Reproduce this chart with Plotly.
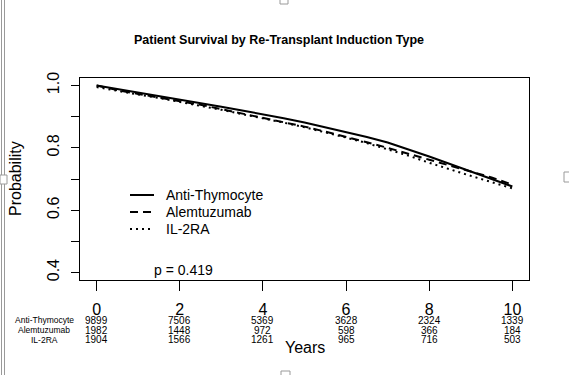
import plotly.graph_objects as go

# ---- data ----
years = [0, 0.5, 1, 1.5, 2, 2.5, 3, 3.5, 4, 4.5, 5, 5.5, 6, 6.5, 7, 7.5, 8, 8.5, 9, 9.5, 10]
surv_atg = [1.0, 0.989, 0.978, 0.967, 0.956, 0.944, 0.932, 0.920, 0.908, 0.895, 0.881,
            0.866, 0.851, 0.835, 0.817, 0.795, 0.772, 0.748, 0.724, 0.700, 0.676]
surv_alem = [1.0, 0.985, 0.973, 0.962, 0.950, 0.938, 0.924, 0.910, 0.897, 0.883, 0.868,
             0.852, 0.836, 0.818, 0.800, 0.782, 0.762, 0.743, 0.725, 0.705, 0.682]
surv_il2 = [0.995, 0.982, 0.971, 0.960, 0.948, 0.936, 0.922, 0.908, 0.895, 0.881, 0.866,
            0.850, 0.833, 0.815, 0.796, 0.775, 0.752, 0.730, 0.710, 0.690, 0.670]

groups = ["Anti-Thymocyte", "Alemtuzumab", "IL-2RA"]
risk_times = [0, 2, 4, 6, 8, 10]
risk_atg = [9899, 7506, 5369, 3628, 2324, 1339]
risk_alem = [1982, 1448, 972, 598, 366, 184]
risk_il2 = [1904, 1566, 1261, 965, 716, 503]

y_ticks = [0.4, 0.5, 0.6, 0.7, 0.8, 0.9, 1.0]
y_ticklabels = ["0.4", "", "0.6", "", "0.8", "", "1.0"]
p_text = "p = 0.419"
title = "Patient Survival by Re-Transplant Induction Type"

FONT = "Liberation Sans, Arial, sans-serif"
W, H = 569, 375
ML, MR, MT, MB = 80, 40, 78, 95
PW, PH = W - ML - MR, H - MT - MB


def px(xp):
    return (xp - ML) / PW


def py(yp):
    return (H - MB - yp) / PH


fig = go.Figure()
styles = [("solid", 2), ("8px,5px", 2), ("2px,4px", 2)]
for name, ys, (dash, w) in zip(groups, [surv_atg, surv_alem, surv_il2], styles):
    fig.add_trace(go.Scatter(x=years, y=ys, mode="lines", name=name, showlegend=False,
                             hoverinfo="skip",
                             line=dict(color="black", width=w, dash=dash)))

# legend (drawn by hand to match spacing)
for i, (name, (dash, w)) in enumerate(zip(groups, styles)):
    yy = py(195 + i * 17)
    fig.add_shape(type="line", xref="paper", yref="paper", x0=px(130), x1=px(154),
                  y0=yy, y1=yy, line=dict(color="black", width=w, dash=dash))
    fig.add_annotation(x=px(164), xref="paper", y=yy, yref="paper", text=name,
                       showarrow=False, xanchor="left", yanchor="middle",
                       font=dict(size=14, family=FONT, color="black"))

# risk table
row_y = [320, 330, 339.5]
for g, row, ry in zip(groups, [risk_atg, risk_alem, risk_il2], row_y):
    yy = py(ry)
    fig.add_annotation(x=px(44), xref="paper", y=yy, yref="paper", text=g,
                       showarrow=False, xanchor="center", yanchor="middle",
                       font=dict(size=8.5, family=FONT, color="black"))
    for t, v in zip(risk_times, row):
        fig.add_annotation(x=t, xref="x", y=yy, yref="paper", text=str(v),
                           showarrow=False, xanchor="center", yanchor="middle",
                           font=dict(size=10, family=FONT, color="black"))

fig.add_annotation(x=0.5, xref="paper", y=py(347), yref="paper", text="Years",
                   showarrow=False, xanchor="center", yanchor="middle",
                   font=dict(size=16, family=FONT, color="black"))
fig.add_annotation(x=px(15), xref="paper", y=0.5, yref="paper", text="Probability",
                   showarrow=False, textangle=-90, xanchor="center", yanchor="middle",
                   font=dict(size=16, family=FONT, color="black"))
fig.add_annotation(x=1.33, xref="x", y=0.407, yref="y", text=p_text,
                   showarrow=False, xanchor="left", yanchor="middle",
                   font=dict(size=14, family=FONT, color="black"))

# window border artifacts
for xp in [1.5, 4.5]:
    fig.add_shape(type="line", xref="paper", yref="paper",
                  x0=px(xp), x1=px(xp), y0=py(H + 5), y1=py(-5),
                  line=dict(color="#9a9a9a", width=1))
for (x0, y0, x1, y1) in [(0, 175, 7, 184), (564, 172, 572, 182),
                         (280, -3, 288, 4), (281, 371, 290, 379)]:
    fig.add_shape(type="rect", xref="paper", yref="paper",
                  x0=px(x0), x1=px(x1), y0=py(y1), y1=py(y0),
                  line=dict(color="#9a9a9a", width=1), fillcolor="white")

fig.update_layout(
    width=W, height=H,
    margin=dict(l=ML, r=MR, t=MT, b=MB),
    paper_bgcolor="white", plot_bgcolor="white",
    title=dict(text="<b>" + title + "</b>", x=279 / W, xanchor="center",
               y=1 - 40 / H, yanchor="middle",
               font=dict(size=12.5, family=FONT, color="black")),
    showlegend=False,
    hovermode=False,
    font=dict(family=FONT, color="black"),
)
fig.update_xaxes(range=[-0.4, 10.4], tickvals=risk_times, ticks="outside", ticklen=10,
                 tickcolor="black", showline=True, linecolor="black", mirror=True,
                 showgrid=False, zeroline=False, ticklabelstandoff=5,
                 tickfont=dict(size=16, family=FONT, color="black"))
fig.update_yaxes(range=[0.376, 1.024], tickvals=y_ticks, ticktext=y_ticklabels,
                 ticks="outside", ticklen=8, tickcolor="black", showline=True,
                 linecolor="black", mirror=True, showgrid=False, zeroline=False,
                 tickangle=-90, ticklabelstandoff=6,
                 tickfont=dict(size=16, family=FONT, color="black"))

fig.write_html("out.html", config={"displayModeBar": False},
               post_script="document.body.style.margin='0';")
